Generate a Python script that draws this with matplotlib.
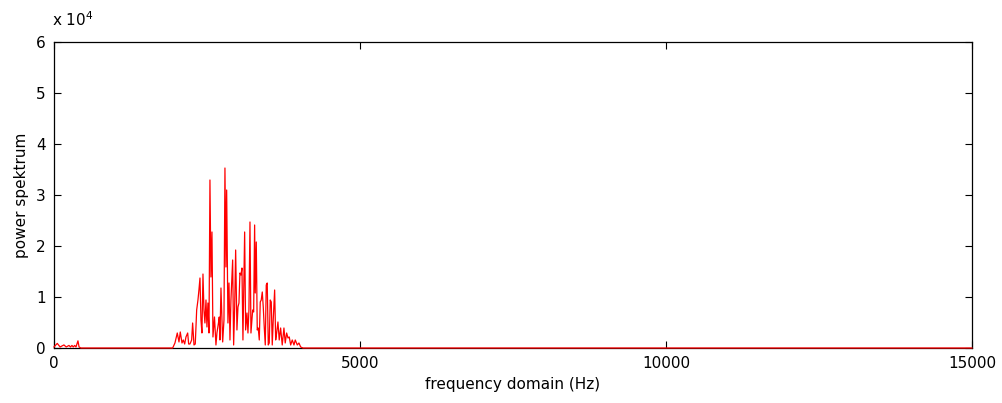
import matplotlib
matplotlib.use('Agg')
import matplotlib.pyplot as plt

freq = [0, 54, 100, 163, 200, 245, 270, 294, 315, 338, 360, 392, 410, 440,
        1900, 1940, 1977, 2015, 2043, 2064, 2092, 2113, 2136, 2157, 2185, 2201,
        2222, 2250, 2266, 2288, 2309, 2332, 2353, 2369, 2386, 2402, 2418, 2435,
        2451, 2467, 2484, 2500, 2516, 2533, 2549, 2565, 2582, 2598, 2623, 2647,
        2663, 2688, 2701, 2712, 2729, 2757, 2778, 2794, 2810, 2822, 2843, 2860,
        2876, 2892, 2920, 2936, 2953, 2969, 2990, 3007, 3023, 3039, 3056, 3072,
        3088, 3116, 3132, 3154, 3170, 3186, 3203, 3219, 3247, 3263, 3279, 3289,
        3306, 3322, 3338, 3355, 3371, 3387, 3404, 3420, 3436, 3453, 3469, 3485,
        3502, 3518, 3534, 3551, 3567, 3583, 3606, 3623, 3639, 3660, 3681, 3704,
        3730, 3758, 3779, 3802, 3824, 3845, 3868, 3894, 3922, 3943, 3976, 4003,
        4031, 4069, 15000]
power = [200, 900, 200, 600, 200, 500, 200, 500, 200, 500, 200, 1400, 200, 0,
         0, 0, 980, 2940, 1180, 3140, 980, 1570, 780, 2160, 2940, 780,
         780, 1570, 4900, 590, 780, 7450, 9410, 11370, 13720, 5490, 2940, 14500,
         7450, 4900, 9410, 4120, 8820, 2940, 32930, 13920, 22740, 2160, 6080, 590,
         2940, 4900, 6080, 1570, 11760, 1180, 5490, 35280, 15880, 30970, 4900, 12740,
         1570, 9410, 17250, 590, 8040, 19210, 3530, 8040, 8820, 14700, 14310, 15680,
         1570, 22740, 3530, 6860, 2940, 7450, 24700, 2940, 7450, 7060, 24110, 10780,
         20780, 3530, 3920, 1570, 9020, 9410, 10980, 8040, 4120, 590, 12350, 12740,
         590, 980, 9410, 9020, 590, 5490, 11370, 1570, 2940, 5100, 1570, 3920,
         590, 3920, 980, 2940, 1960, 2160, 590, 1570, 590, 1570, 590, 980,
         200, 0, 0]

xticks = [0, 5000, 10000, 15000]
xticklabels = ['0', '5000', '10000', '15000']
yticks = [0, 10000, 20000, 30000, 40000, 50000, 60000]
yticklabels = ['0', '1', '2', '3', '4', '5', '6']

plt.rcParams['font.family'] = ['DejaVu Sans']

fig = plt.figure(figsize=(10.03, 4.03), dpi=100)
ax = fig.add_axes([0.0538, 0.1365, 0.9152, 0.7595])

ax.plot(freq, power, color='red', linewidth=0.9, zorder=3, clip_on=False)

ax.set_xlim(0, 15000)
ax.set_ylim(0, 60000)
ax.set_xticks(xticks)
ax.set_xticklabels(xticklabels)
ax.set_yticks(yticks)
ax.set_yticklabels(yticklabels)
ax.tick_params(direction='in', top=True, right=True, length=5, width=0.8,
               labelsize=11, pad=6)
for s in ax.spines.values():
    s.set_linewidth(0.9)

ax.set_xlabel('frequency domain (Hz)', fontsize=11, labelpad=4)
ax.set_ylabel('power spektrum', fontsize=11, labelpad=5)
fig.text(0.052, 0.935, 'x 10$^{4}$', fontsize=11)

fig.savefig('out.png', dpi=100)
